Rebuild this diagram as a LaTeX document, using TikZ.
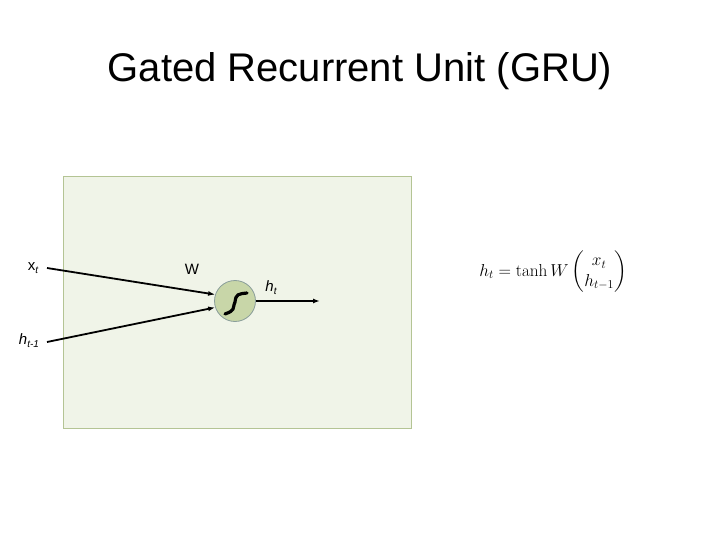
\documentclass[tikz,border=0pt]{standalone}
\usepackage{amsmath}
\usepackage[no-math]{fontspec}
\setmainfont{Liberation Sans}
\usetikzlibrary{arrows.meta}
\definecolor{panelfill}{HTML}{F0F4E8}
\definecolor{panelline}{HTML}{B4C494}
\definecolor{cellfill}{HTML}{C8D6A8}
\definecolor{cellline}{HTML}{8A9E9A}
\tikzset{
  conn/.style={line width=1.8pt, -{Latex[length=7pt,width=5pt]}},
  lbl/.style={font=\fontsize{15}{17}\selectfont, inner sep=0pt}
}
\begin{document}
\begin{tikzpicture}[x=1pt,y=-1pt]
\useasboundingbox (0,0) rectangle (720,540);
\fill[white] (0,0) rectangle (720,540);
\node[font=\fontsize{40}{44}\selectfont] (title) at (360,71) {Gated Recurrent Unit (GRU)};
\draw[panelline, fill=panelfill, line width=0.8pt] (63,176) rectangle (411,428);
\node[circle, minimum size=41pt, inner sep=0pt, fill=cellfill, draw=cellline, line width=0.8pt] (cell) at (235,301) {};
\draw[line width=3.2pt, line cap=round] (225,314) .. controls (236,310) and (232,309) .. (235,302) .. controls (236,294) and (238,294) .. (247,293);
\coordinate (xin) at (47,268);
\coordinate (hin) at (47,342);
\coordinate (hout) at (320,301);
\node[lbl] (xlbl) at (33,268) {x\raisebox{-0.35ex}{\fontsize{10}{12}\selectfont\itshape t}};
\node[lbl] (hlbl) at (29,341) {\textit{h}\raisebox{-0.35ex}{\fontsize{10}{12}\selectfont\itshape t-1}};
\node[lbl] (wlbl) at (192,269) {W};
\node[lbl] (htlbl) at (271,288) {\textit{h}\raisebox{-0.35ex}{\fontsize{10}{12}\selectfont\itshape t}};
\draw[conn] (xin) -- (cell.162);
\draw[conn] (hin) -- (cell.198);
\draw[conn] (cell.east) -- (hout);
\node[font=\fontsize{17}{20}\selectfont] (eq) at (553,272) {$h_t = \tanh W \begin{pmatrix} x_t \\ h_{t-1}\end{pmatrix}$};
\end{tikzpicture}
\end{document}
